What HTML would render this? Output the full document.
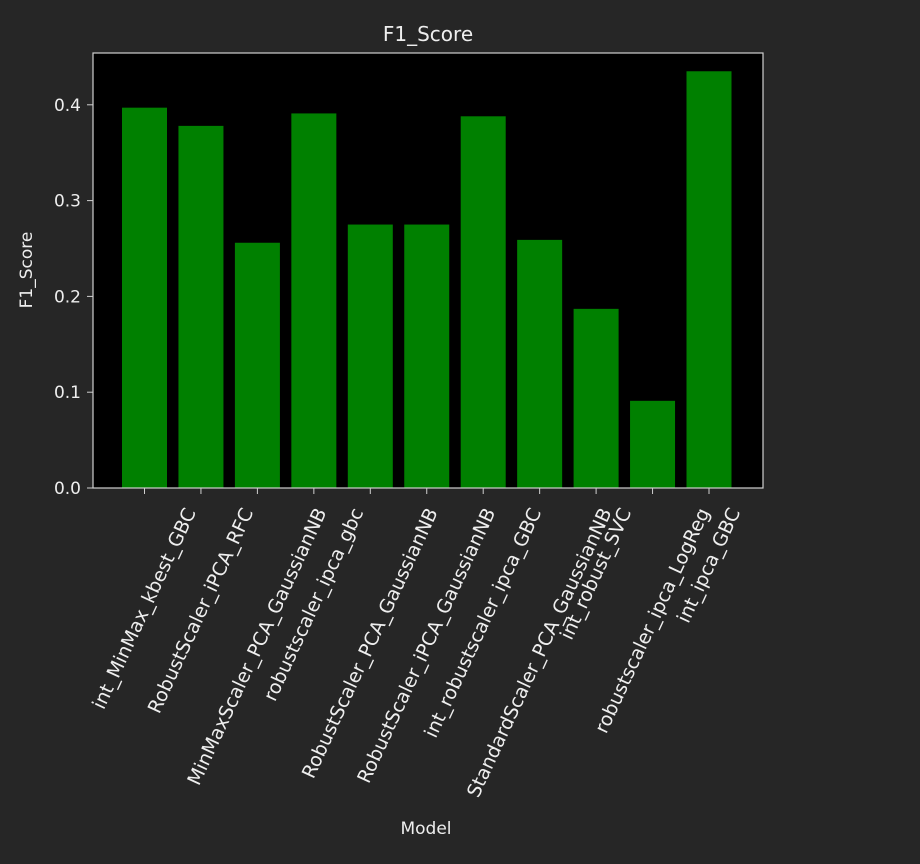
<!DOCTYPE html>
<html><head><meta charset="utf-8"><style>
body{margin:0;background:#262626;}
svg{display:block;font-family:"DejaVu Sans","Liberation Sans",sans-serif;}
</style></head><body>
<svg id="chart" width="920" height="864">
<rect x="0" y="0" width="920" height="864" fill="#262626"/>
<rect x="93" y="53" width="670" height="435" fill="#000"/>
<g id="bars"></g>
<rect x="93" y="53" width="670" height="435" fill="none" stroke="#d0d0d0" stroke-width="1.2"/>
<g id="yaxis"></g>
<g id="xaxis"></g>
<text x="428" y="41" fill="#eee" font-size="20" text-anchor="middle">F1_Score</text>
<text x="0" y="0" fill="#eee" font-size="17" text-anchor="middle" transform="translate(32,270) rotate(-90)">F1_Score</text>
<text x="426" y="834" fill="#eee" font-size="17" text-anchor="middle">Model</text>
</svg>
<script>
const categories = ["int_MinMax_kbest_GBC","RobustScaler_iPCA_RFC","MinMaxScaler_PCA_GaussianNB","robustscaler_ipca_gbc","RobustScaler_PCA_GaussianNB","RobustScaler_iPCA_GaussianNB","int_robustscaler_ipca_GBC","StandardScaler_PCA_GaussianNB","int_robust_SVC","robustscaler_ipca_LogReg","int_ipca_GBC"];
const f1Values = [0.397, 0.378, 0.256, 0.391, 0.275, 0.275, 0.388, 0.259, 0.187, 0.091, 0.435];
const yTicks = [0.0, 0.1, 0.2, 0.3, 0.4];
const yTickLabels = ["0.0","0.1","0.2","0.3","0.4"];

const NS = "http://www.w3.org/2000/svg";
const y0 = 488, pxPer = 958;
function yScale(v){ return y0 - v * pxPer; }
const firstX = 144.5, step = 56.45, bw = 45;
function xScale(i){ return firstX + i * step; }

const bars = document.getElementById('bars');
const xaxis = document.getElementById('xaxis');
const yaxis = document.getElementById('yaxis');

f1Values.forEach((v, i) => {
  const r = document.createElementNS(NS, 'rect');
  r.setAttribute('x', xScale(i) - bw/2);
  r.setAttribute('y', yScale(v));
  r.setAttribute('width', bw);
  r.setAttribute('height', y0 - yScale(v));
  r.setAttribute('fill', '#008000');
  
  
  bars.appendChild(r);
});

yTicks.forEach((t, i) => {
  const y = yScale(t);
  const l = document.createElementNS(NS, 'line');
  l.setAttribute('x1', 87); l.setAttribute('x2', 93);
  l.setAttribute('y1', y); l.setAttribute('y2', y);
  l.setAttribute('stroke', '#d0d0d0');
  
  
  yaxis.appendChild(l);
  const tx = document.createElementNS(NS, 'text');
  tx.setAttribute('x', 81); tx.setAttribute('y', y + 6);
  tx.setAttribute('fill', '#eee'); tx.setAttribute('font-size', '17');
  tx.setAttribute('text-anchor', 'end');
  tx.textContent = yTickLabels[i];
  
  
  yaxis.appendChild(tx);
});

const ang = 65 * Math.PI / 180;
categories.forEach((c, i) => {
  const x = xScale(i);
  const l = document.createElementNS(NS, 'line');
  l.setAttribute('x1', x); l.setAttribute('x2', x);
  l.setAttribute('y1', 488); l.setAttribute('y2', 494);
  l.setAttribute('stroke', '#d0d0d0');
  
  
  xaxis.appendChild(l);
  const tx = document.createElementNS(NS, 'text');
  tx.setAttribute('fill', '#eee'); tx.setAttribute('font-size', '19');
  tx.setAttribute('text-anchor', 'middle');
  tx.setAttribute('dominant-baseline', 'central');
  tx.textContent = c;
  
  
  xaxis.appendChild(tx);
  const L = tx.getComputedTextLength();
  const h = 16;
  const boxH = L * Math.sin(ang) + h * Math.cos(ang);
  const cy = 506 + boxH / 2;
  tx.setAttribute('x', 0); tx.setAttribute('y', 0);
  tx.setAttribute('transform', 'translate(' + x + ',' + cy + ') rotate(-65)');
});
</script>
</body></html>
